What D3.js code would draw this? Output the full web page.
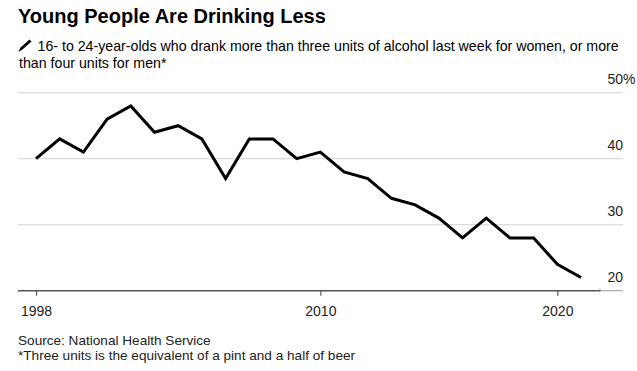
<!DOCTYPE html>
<html>
<head>
<meta charset="utf-8">
<script src="https://cdn.jsdelivr.net/npm/d3@7"></script>
<style>
  body { margin: 0; background: #fff; }
  svg text { font-family: "Liberation Sans", Arial, sans-serif; fill: #000; }
</style>
</head>
<body>
<div id="chart"></div>
<script>
// share of 16-24 year-olds drinking above the threshold, %
var years = [1998, 1999, 2000, 2001, 2002, 2003, 2004, 2005, 2006, 2007, 2008, 2009,
             2010, 2011, 2012, 2013, 2014, 2015, 2016, 2017, 2018, 2019, 2020, 2021];
var share = [40, 43, 41, 46, 48, 44, 45, 43, 37, 43, 43, 40,
             41, 38, 37, 34, 33, 31, 28, 31, 28, 28, 24, 22];
var yTicks = [20, 30, 40, 50];
var xTicks = [1998, 2010, 2020];

var title = "Young People Are Drinking Less";
var subtitle = ["16- to 24-year-olds who drank more than three units of alcohol last week for women, or more",
                "than four units for men*"];
var notes = ["Source: National Health Service",
             "*Three units is the equivalent of a pint and a half of beer"];

var width = 637, height = 371;

var svg = d3.select("#chart").append("svg")
  .attr("width", width)
  .attr("height", height);

var x = d3.scaleLinear().domain([1997.24, 2021.8]).range([18, 600]);
var y = d3.scaleLinear().domain([20, 50]).range([290.7, 92.7]);
var gridRight = 623;

// header
svg.append("text")
  .attr("x", 18).attr("y", 23)
  .style("font-size", "20px").style("font-weight", "bold")
  .text(title);

// little pencil mark before the subtitle
svg.append("path")
  .attr("d", "M18.5,52 L20.5,47.5 L29.5,39.5 L31.5,41.5 L22.5,49.5 Z")
  .attr("fill", "#000");

svg.selectAll("text.sub")
  .data(subtitle)
  .enter().append("text")
  .attr("class", "sub")
  .attr("x", function(d, i) { return i === 0 ? 37.5 : 19; })
  .attr("y", function(d, i) { return 51 + i * 17; })
  .style("font-size", "14.2px")
  .text(function(d) { return d; });

// gridlines
svg.append("g")
  .selectAll("line")
  .data(yTicks.filter(function(d) { return d > 20; }))
  .enter().append("line")
  .attr("x1", 18).attr("x2", gridRight)
  .attr("y1", function(d) { return y(d); })
  .attr("y2", function(d) { return y(d); })
  .attr("stroke", "#dcdcdc")
  .attr("stroke-width", 1.2);

// y labels, sitting above the gridlines, right aligned
svg.append("g")
  .selectAll("text")
  .data(yTicks)
  .enter().append("text")
  .attr("x", gridRight)
  .attr("y", function(d) { return y(d) - 8.5; })
  .attr("text-anchor", "end")
  .style("font-size", "14px")
  .style("fill", "#222")
  .text(function(d) { return d; });

svg.append("text")
  .attr("x", gridRight)
  .attr("y", y(50) - 8.5)
  .style("font-size", "14px")
  .style("fill", "#222")
  .text("%");

// x axis
var xAxis = svg.append("g")
  .attr("transform", "translate(0," + y(20) + ")")
  .call(d3.axisBottom(x).tickValues(xTicks).tickFormat(d3.format("d")).tickSize(5).tickPadding(10));

xAxis.select(".domain")
  .attr("d", "M18,0H" + x.range()[1])
  .attr("stroke", "#555")
  .attr("stroke-width", 1.5);
xAxis.selectAll(".tick line").attr("stroke", "#555").attr("stroke-width", 1.2);
xAxis.selectAll(".tick text")
  .style("font-size", "14px")
  .style("fill", "#222")
  .style("font-family", "'Liberation Sans', Arial, sans-serif");

xAxis.append("line")
  .attr("x1", x.range()[1]).attr("x2", gridRight)
  .attr("y1", 0).attr("y2", 0)
  .attr("stroke", "#aaa")
  .attr("stroke-width", 1.2);
xAxis.append("line")
  .attr("x1", x.range()[1]).attr("x2", x.range()[1])
  .attr("y1", -2).attr("y2", 1)
  .attr("stroke", "#888");

// the line
var line = d3.line()
  .x(function(d, i) { return x(years[i]); })
  .y(function(d) { return y(d); });

svg.append("path")
  .datum(share)
  .attr("d", line)
  .attr("fill", "none")
  .attr("stroke", "#000")
  .attr("stroke-width", 3)
  .attr("stroke-linejoin", "miter");

// footer
svg.selectAll("text.note")
  .data(notes)
  .enter().append("text")
  .attr("class", "note")
  .attr("x", 18)
  .attr("y", function(d, i) { return 345 + i * 15; })
  .style("font-size", "13.6px")
  .style("fill", "#222")
  .text(function(d) { return d; });
</script>
</body>
</html>
